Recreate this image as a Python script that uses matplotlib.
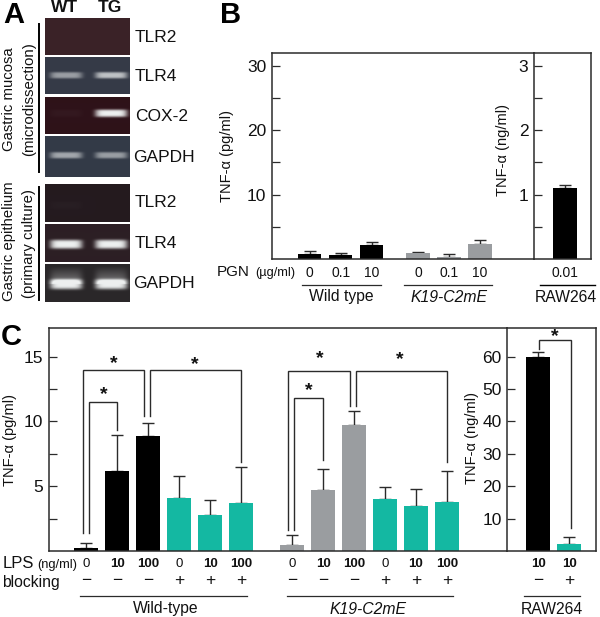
import numpy as np
import matplotlib
matplotlib.use('Agg')
import matplotlib.pyplot as plt
from matplotlib.lines import Line2D

plt.rcParams['font.family'] = ['Liberation Sans', 'DejaVu Sans']

W, H = 600, 617
BLACK = '#000000'
GREY = '#9a9da0'
TEAL = '#14b8a2'
LINE = '#2b2b2b'

# Panel A, gels
gel_names = ['TLR2', 'TLR4', 'COX-2', 'GAPDH', 'TLR2', 'TLR4', 'GAPDH']
gel_tops = [18, 57, 97, 136, 184, 224, 264]
gel_bottoms = [55, 94, 134, 177, 222, 262, 302]
gel_bands = [76, 75, 113, 155, 205, 244, 284]
gel_bg = ['#3a2228', '#353a47', '#2e1219', '#333a47', '#241a1f', '#2c1f24', '#2a2729']
band_wt = [0.0, 0.55, 0.03, 0.6, 0.02, 1.0, 1.0]
band_tg = [0.0, 0.75, 1.0, 0.55, 0.0, 1.0, 1.0]
band_thick = [2.5, 3.2, 3.8, 3.2, 4.0, 4.5, 5.0]
smear = [0, 0, 0, 0, 0, 0, 0.45]

# Panel B
pgn_labels = ['0', '0.1', '10', '0', '0.1', '10']
b_values = [0.75, 0.55, 2.2, 1.0, 0.35, 2.3]
b_errors = [0.55, 0.35, 0.5, 0.15, 0.35, 0.6]
b_raw_value = [1.1]
b_raw_error = [0.05]

# Panel C
lps_labels = ['0', '10', '100', '0', '10', '100']
block_labels = ['\u2212', '\u2212', '\u2212', '+', '+', '+']
c_wt_values = [0.25, 6.15, 8.85, 4.05, 2.8, 3.7]
c_wt_errors = [0.35, 2.8, 1.05, 1.7, 1.15, 2.75]
c_tg_values = [0.5, 4.74, 9.68, 4.04, 3.5, 3.78]
c_tg_errors = [0.7, 1.6, 1.12, 0.9, 1.26, 2.4]
c_raw_values = [60, 2.2]
c_raw_errors = [1.5, 2.0]
c_raw_lps = ['10', '10']
c_raw_block = ['\u2212', '+']

fig = plt.figure(figsize=(W / 100, H / 100), dpi=100)


def px_axes(x0, y0, x1, y1):
    return fig.add_axes([x0 / W, 1 - y1 / H, (x1 - x0) / W, (y1 - y0) / H])


def txt(x, y, s, size=11, ha='center', va='center', **kw):
    kw.setdefault('color', '#111111')
    fig.text(x / W, 1 - y / H, s, fontsize=size, ha=ha, va=va, **kw)


def line(xs, ys, lw=1.0, color=LINE):
    fig.add_artist(Line2D([x / W for x in xs], [1 - y / H for y in ys],
                          lw=lw, color=color, solid_joinstyle='miter'))


def draw_gel(i):
    x0, x1 = 45, 130
    y0, y1 = gel_tops[i], gel_bottoms[i]
    ax = px_axes(x0, y0, x1, y1)
    xs = np.arange(x0, x1, 0.5)
    ys = np.arange(y0, y1, 0.5)
    xx, yy = np.meshgrid(xs, ys)
    bg = np.array(matplotlib.colors.to_rgb(gel_bg[i]))
    img = np.ones(xx.shape + (3,)) * bg
    b = np.zeros(xx.shape)
    sm = np.zeros(xx.shape)
    for cx, amp in [(66, band_wt[i]), (111, band_tg[i])]:
        across = np.exp(-((xx - cx) / 16) ** 6)
        b += amp * across * np.exp(-((yy - gel_bands[i]) / band_thick[i]) ** 4)
        toward_band = 1 - np.clip((gel_bands[i] - yy) / 18, 0, 1)
        sm += smear[i] * amp * across * toward_band * (yy < gel_bands[i])
    b = np.clip(b + sm, 0, 1)
    img = img * (1 - b[..., None]) + np.array([0.93, 0.94, 0.94]) * b[..., None]
    ax.imshow(img, aspect='auto', interpolation='bilinear')
    ax.axis('off')
    txt(135 if gel_names[i] != 'GAPDH' else 133.5, (y0 + y1) / 2 + (1 if i < 4 else 0),
        gel_names[i], size=12.5, ha='left')


def style_axes(ax):
    for s in ax.spines.values():
        s.set_color(LINE)
        s.set_linewidth(1.1)
    ax.tick_params(axis='y', which='major', direction='in', length=6, width=0.9,
                   labelsize=12.5, pad=4, color=LINE, labelcolor='#111111')
    ax.tick_params(axis='y', which='minor', direction='in', length=6, width=0.9, color=LINE)
    ax.set_xticks([])


def bars(ax, xs, vals, errs, colors, width=0.75):
    ax.errorbar(xs, vals, yerr=[np.zeros(len(vals)), errs], fmt='none', ecolor=LINE,
                elinewidth=1.0, capsize=4.3, capthick=1.0, zorder=1)
    ax.bar(xs, vals, width=width, color=colors, zorder=2)


# Panel A
for i in range(len(gel_names)):
    draw_gel(i)
txt(3, 15, 'A', size=21, ha='left', weight='bold', color='black')
txt(65, 8, 'WT', size=12.5, weight='bold')
txt(110, 8, 'TG', size=12.5, weight='bold')
line([39, 39], [24, 172], lw=1.4, color='black')
line([39, 39], [187, 300], lw=1.4, color='black')
txt(9, 99, 'Gastric mucosa', size=10.7, rotation=90)
txt(29, 99, '(microdissection)', size=10.8, rotation=90)
txt(9, 241, 'Gastric epithelium', size=10.7, rotation=90)
txt(29, 244, '(primary culture)', size=10.7, rotation=90)

# Panel B
txt(220, 15, 'B', size=21, ha='left', weight='bold', color='black')
ax_b = px_axes(272, 53, 534, 259)
style_axes(ax_b)
b_x = np.array([0, 1, 2, 3.49, 4.49, 5.49])
ax_b.set_ylim(0, 32)
ax_b.set_yticks([10, 20, 30])
ax_b.set_yticks([5, 15, 25], minor=True)
bars(ax_b, b_x, b_values, b_errors, [BLACK] * 3 + [GREY] * 3, width=0.75)
ax_b.set_xlim(-1.216, 7.236)
ax_b.spines['right'].set_visible(False)

ax_b2 = px_axes(534, 53, 591, 259)
style_axes(ax_b2)
ax_b2.set_ylim(0, 3.2)
ax_b2.set_yticks([1, 2, 3])
ax_b2.set_yticks([0.5, 1.5, 2.5], minor=True)
bars(ax_b2, [0.0], b_raw_value, b_raw_error, [BLACK], width=0.75)
ax_b2.set_xlim(-1.0, 0.84)
txt(227, 156, 'TNF-\u03b1 (pg/ml)', size=10.5, rotation=90)
txt(503, 150, 'TNF-\u03b1 (ng/ml)', size=10.5, rotation=90)

txt(217, 272, 'PGN', size=11, ha='left')
txt(255, 273, '(\u00b5g/ml)', size=9.2, ha='left')
for xv, lab in zip(b_x, pgn_labels):
    px = 272 + (xv + 1.216) / 8.452 * 262
    txt(px, 273, lab, size=10)
txt(565, 273, '0.01', size=10)
line([302, 381], [285, 285], lw=0.9)
line([404, 492], [285, 285], lw=0.9)
line([540, 595], [285, 285], lw=1.0, color='black')
txt(341, 297, 'Wild type', size=11.3)
txt(449, 297, 'K19-C2mE', size=11.3, style='italic')
txt(566, 298, 'RAW264', size=11.3)

# Panel C
txt(1, 337, 'C', size=21, ha='left', weight='bold', color='black')
ax_c = px_axes(49, 328, 507.3, 551)
style_axes(ax_c)
c_wt_x = np.arange(6)
c_tg_x = np.arange(6) + 6.65
ax_c.set_xlim(-1.2, 13.6)
ax_c.set_ylim(0, 17.2)
ax_c.set_yticks([5, 10, 15])
ax_c.set_yticks([2.5, 7.5, 12.5], minor=True)
bars(ax_c, c_wt_x, c_wt_values, c_wt_errors, [BLACK] * 3 + [TEAL] * 3, width=0.77)
bars(ax_c, c_tg_x, c_tg_values, c_tg_errors, [GREY] * 3 + [TEAL] * 3, width=0.77)
ax_c.spines['right'].set_visible(False)

ax_c2 = px_axes(507.3, 328, 595.7, 551)
style_axes(ax_c2)
ax_c2.set_xlim(-1.0, 1.85)
ax_c2.set_ylim(0, 68.8)
ax_c2.set_yticks([10, 20, 30, 40, 50, 60])
bars(ax_c2, [0.0, 1.0], c_raw_values, c_raw_errors, [BLACK, TEAL], width=0.77)
txt(10, 440, 'TNF-\u03b1 (pg/ml)', size=10.5, rotation=90)
txt(472, 438, 'TNF-\u03b1 (ng/ml)', size=10.5, rotation=90)

txt(3, 564, 'LPS', size=12, ha='left')
txt(37, 565, '(ng/ml)', size=9.3, ha='left')
txt(2, 583, 'blocking', size=11.3, ha='left')
for xv, a, c in zip(list(c_wt_x) + list(c_tg_x), lps_labels * 2, block_labels * 2):
    px = 49 + (xv + 1.2) / 14.8 * 458.3
    txt(px, 564, a, size=9.5, weight='bold' if a != '0' else 'normal')
    txt(px, 581, c, size=12.5)
for xv, a, c in zip([0.0, 1.0], c_raw_lps, c_raw_block):
    px = 507.3 + (xv + 1.0) / 2.85 * 88.4
    txt(px, 564, a, size=9.5, weight='bold')
    txt(px, 581, c, size=12.5)
line([80, 247], [596, 596], lw=0.9)
line([287, 453], [596, 596], lw=0.9)
line([524, 580], [596, 596], lw=0.9)
txt(166, 609, 'Wild-type', size=11.3)
txt(368, 609, 'K19-C2mE', size=11.3, style='italic')
txt(552, 610, 'RAW264', size=11.3)

# significance brackets
line([83, 83, 144.3, 144.3], [533, 370, 370, 415.7])
line([150.3, 150.3, 240.7, 240.7], [415.7, 370, 370, 461.7])
line([89.3, 89.3, 117.3, 117.3], [533, 402.3, 402.3, 430])
line([288.3, 288.3, 350, 350], [530, 371, 371, 406])
line([355.7, 355.7, 446.7, 446.7], [406, 371, 371, 461.7])
line([294.3, 294.3, 323.3, 323.3], [530, 397.7, 397.7, 460])
line([538.7, 538.7, 570.7, 570.7], [349, 340.3, 340.3, 528])
for sx, sy in [(114, 364), (195, 365), (104, 395), (320, 359), (400, 360), (309, 391), (555, 337)]:
    txt(sx, sy, '*', size=14, weight='bold')

fig.savefig('out.png', dpi=100)
